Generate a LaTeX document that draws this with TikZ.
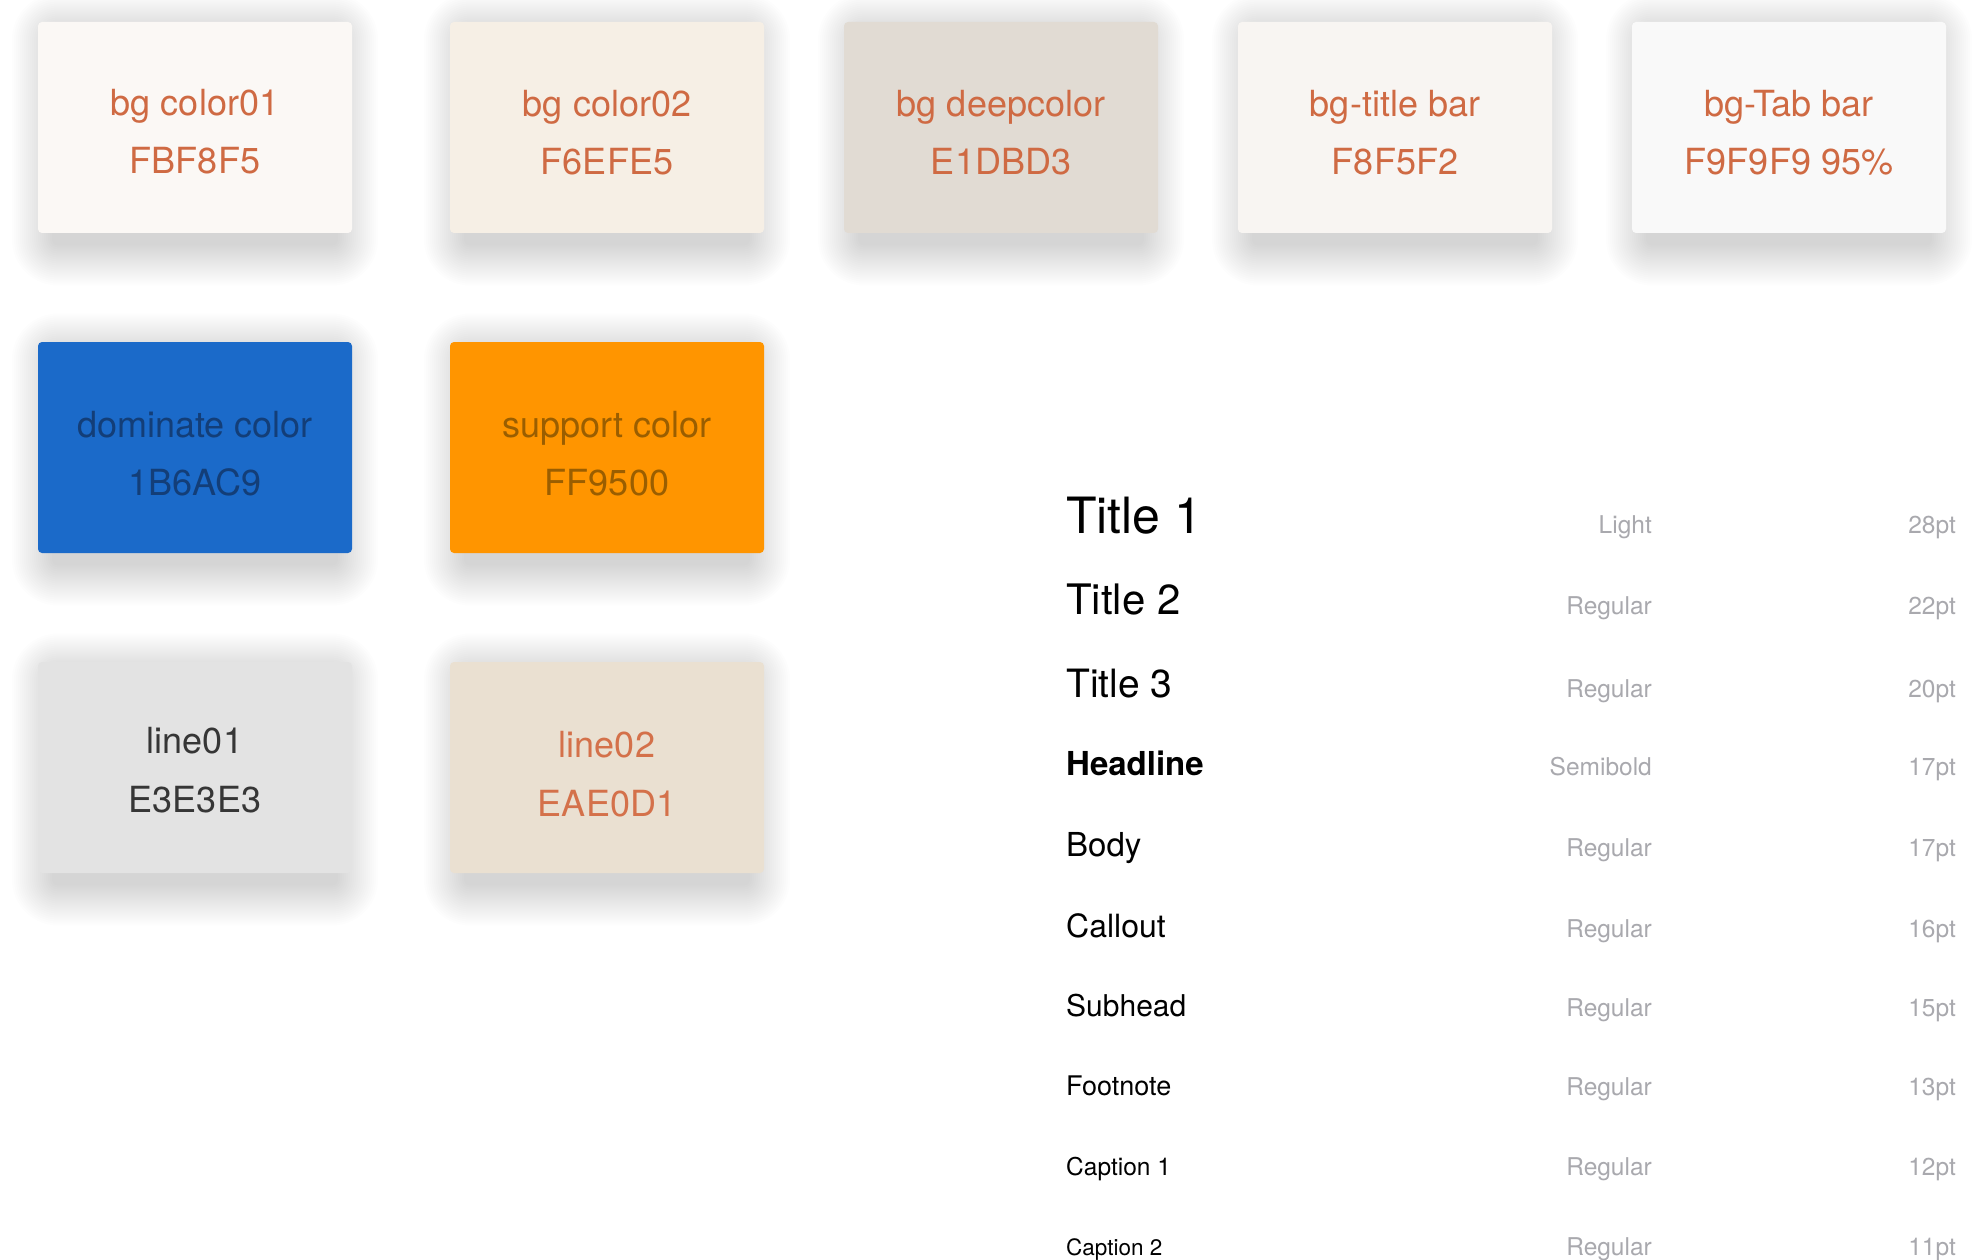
\documentclass[tikz,border=0pt]{standalone}
\usepackage{fontspec}
\setmainfont{TeX Gyre Heros}
\usetikzlibrary{positioning}
\definecolor{cA}{HTML}{FBF8F5}
\definecolor{cB}{HTML}{F6EFE5}
\definecolor{cC}{HTML}{E1DBD3}
\definecolor{cD}{HTML}{F8F5F2}
\definecolor{cE}{HTML}{F9F9F9}
\definecolor{cBlue}{HTML}{1B6AC9}
\definecolor{cOrange}{HTML}{FF9500}
\definecolor{cLineA}{HTML}{E3E3E3}
\definecolor{cLineB}{HTML}{EAE0D1}
\definecolor{tOr}{HTML}{CF6A43}
\definecolor{tOrL}{HTML}{D4714A}
\definecolor{tBlue}{HTML}{133E78}
\definecolor{tSup}{HTML}{9A5E00}
\definecolor{tDark}{HTML}{363636}
\definecolor{tGray}{HTML}{A9A9AE}
\newcommand\softshadow[2]{% center x, center y
  \foreach \r in {0,2,...,40}{
    \fill[black,opacity=0.0085,rounded corners=6pt+\r pt]
      (#1-157+14-\r,#2-106+12-\r) rectangle (#1+157-14+\r,#2+106+12+\r);
  }}
\tikzset{
  swatch/.style={rectangle,rounded corners=4pt,minimum width=314pt,minimum height=211pt,inner sep=0pt,draw=none},
  swtext/.style={anchor=base,font=\fontsize{36}{40}\selectfont,inner sep=0pt},
  tyname/.style={anchor=base west,inner sep=0pt,text=black},
  tylab/.style={anchor=base east,inner sep=0pt,text=tGray,font=\fontsize{24.5}{28}\selectfont},
}
\begin{document}
\begin{tikzpicture}[x=1pt,y=-1pt]
\useasboundingbox[fill=white] (0,0) rectangle (1984,1260);
% shadows
\softshadow{195}{127.5}
\softshadow{607}{127.5}
\softshadow{1001}{127.5}
\softshadow{1395}{127.5}
\softshadow{1789}{127.5}
\softshadow{195}{447.5}
\softshadow{607}{447.5}
\softshadow{195}{767.5}
\softshadow{607}{767.5}
% swatches
\node[swatch,fill=cA] (s1) at (195,127.5) {};
\node[swatch,fill=cB] (s2) at (607,127.5) {};
\node[swatch,fill=cC] (s3) at (1001,127.5) {};
\node[swatch,fill=cD] (s4) at (1395,127.5) {};
\node[swatch,fill=cE] (s5) at (1789,127.5) {};
\node[swatch,fill=cBlue] (s6) at (195,447.5) {};
\node[swatch,fill=cOrange] (s7) at (607,447.5) {};
\node[swatch,fill=cLineA] (s8) at (195,767.5) {};
\node[swatch,fill=cLineB] (s9) at (607,767.5) {};
% swatch texts
\node[swtext,text=tOr] (s1a) at (195,116) {bg color01};
\node[swtext,text=tOr] (s1b) at (195,174) {FBF8F5};
\node[swtext,text=tOr] (s2a) at (607,117) {bg color02};
\node[swtext,text=tOr] (s2b) at (607,175) {F6EFE5};
\node[swtext,text=tOr] (s3a) at (1001,117) {bg deepcolor};
\node[swtext,text=tOr] (s3b) at (1001,175) {E1DBD3};
\node[swtext,text=tOr] (s4a) at (1395,117) {bg-title bar};
\node[swtext,text=tOr] (s4b) at (1395,175) {F8F5F2};
\node[swtext,text=tOr] (s5a) at (1789,117) {bg-Tab bar};
\node[swtext,text=tOr] (s5b) at (1789,175) {F9F9F9 95\%};
\node[swtext,text=tBlue] (s6a) at (195,437) {dominate color};
\node[swtext,text=tBlue] (s6b) at (195,495) {1B6AC9};
\node[swtext,text=tSup] (s7a) at (607,437) {support color};
\node[swtext,text=tSup] (s7b) at (607,495) {FF9500};
\node[swtext,text=tDark] (s8a) at (195,753) {line01};
\node[swtext,text=tDark] (s8b) at (195,812) {E3E3E3};
\node[swtext,text=tOrL] (s9a) at (607,757) {line02};
\node[swtext,text=tOrL] (s9b) at (607,816) {EAE0D1};
% typography table
\node[tyname,font=\fontsize{50}{56}\selectfont] (t1) at (1066,533) {Title 1};
\node[tylab] (t1w) at (1652,533) {Light};
\node[tylab] (t1s) at (1956,533) {28pt};
\node[tyname,font=\fontsize{42}{48}\selectfont] (t2) at (1066,614) {Title 2};
\node[tylab] (t2w) at (1652,614) {Regular};
\node[tylab] (t2s) at (1956,614) {22pt};
\node[tyname,font=\fontsize{39}{44}\selectfont] (t3) at (1066,697) {Title 3};
\node[tylab] (t3w) at (1652,697) {Regular};
\node[tylab] (t3s) at (1956,697) {20pt};
\node[tyname,font=\fontsize{33}{38}\selectfont\bfseries] (t4) at (1066,775) {Headline};
\node[tylab] (t4w) at (1652,775) {Semibold};
\node[tylab] (t4s) at (1956,775) {17pt};
\node[tyname,font=\fontsize{33}{38}\selectfont] (t5) at (1066,856) {Body};
\node[tylab] (t5w) at (1652,856) {Regular};
\node[tylab] (t5s) at (1956,856) {17pt};
\node[tyname,font=\fontsize{32}{36}\selectfont] (t6) at (1066,937) {Callout};
\node[tylab] (t6w) at (1652,937) {Regular};
\node[tylab] (t6s) at (1956,937) {16pt};
\node[tyname,font=\fontsize{30}{34}\selectfont] (t7) at (1066,1016) {Subhead};
\node[tylab] (t7w) at (1652,1016) {Regular};
\node[tylab] (t7s) at (1956,1016) {15pt};
\node[tyname,font=\fontsize{27}{31}\selectfont] (t8) at (1066,1095) {Footnote};
\node[tylab] (t8w) at (1652,1095) {Regular};
\node[tylab] (t8s) at (1956,1095) {13pt};
\node[tyname,font=\fontsize{24.5}{28}\selectfont] (t9) at (1066,1175) {Caption 1};
\node[tylab] (t9w) at (1652,1175) {Regular};
\node[tylab] (t9s) at (1956,1175) {12pt};
\node[tyname,font=\fontsize{22.5}{26}\selectfont] (t10) at (1066,1255) {Caption 2};
\node[tylab] (t10w) at (1652,1255) {Regular};
\node[tylab] (t10s) at (1956,1255) {11pt};
\end{tikzpicture}
\end{document}
